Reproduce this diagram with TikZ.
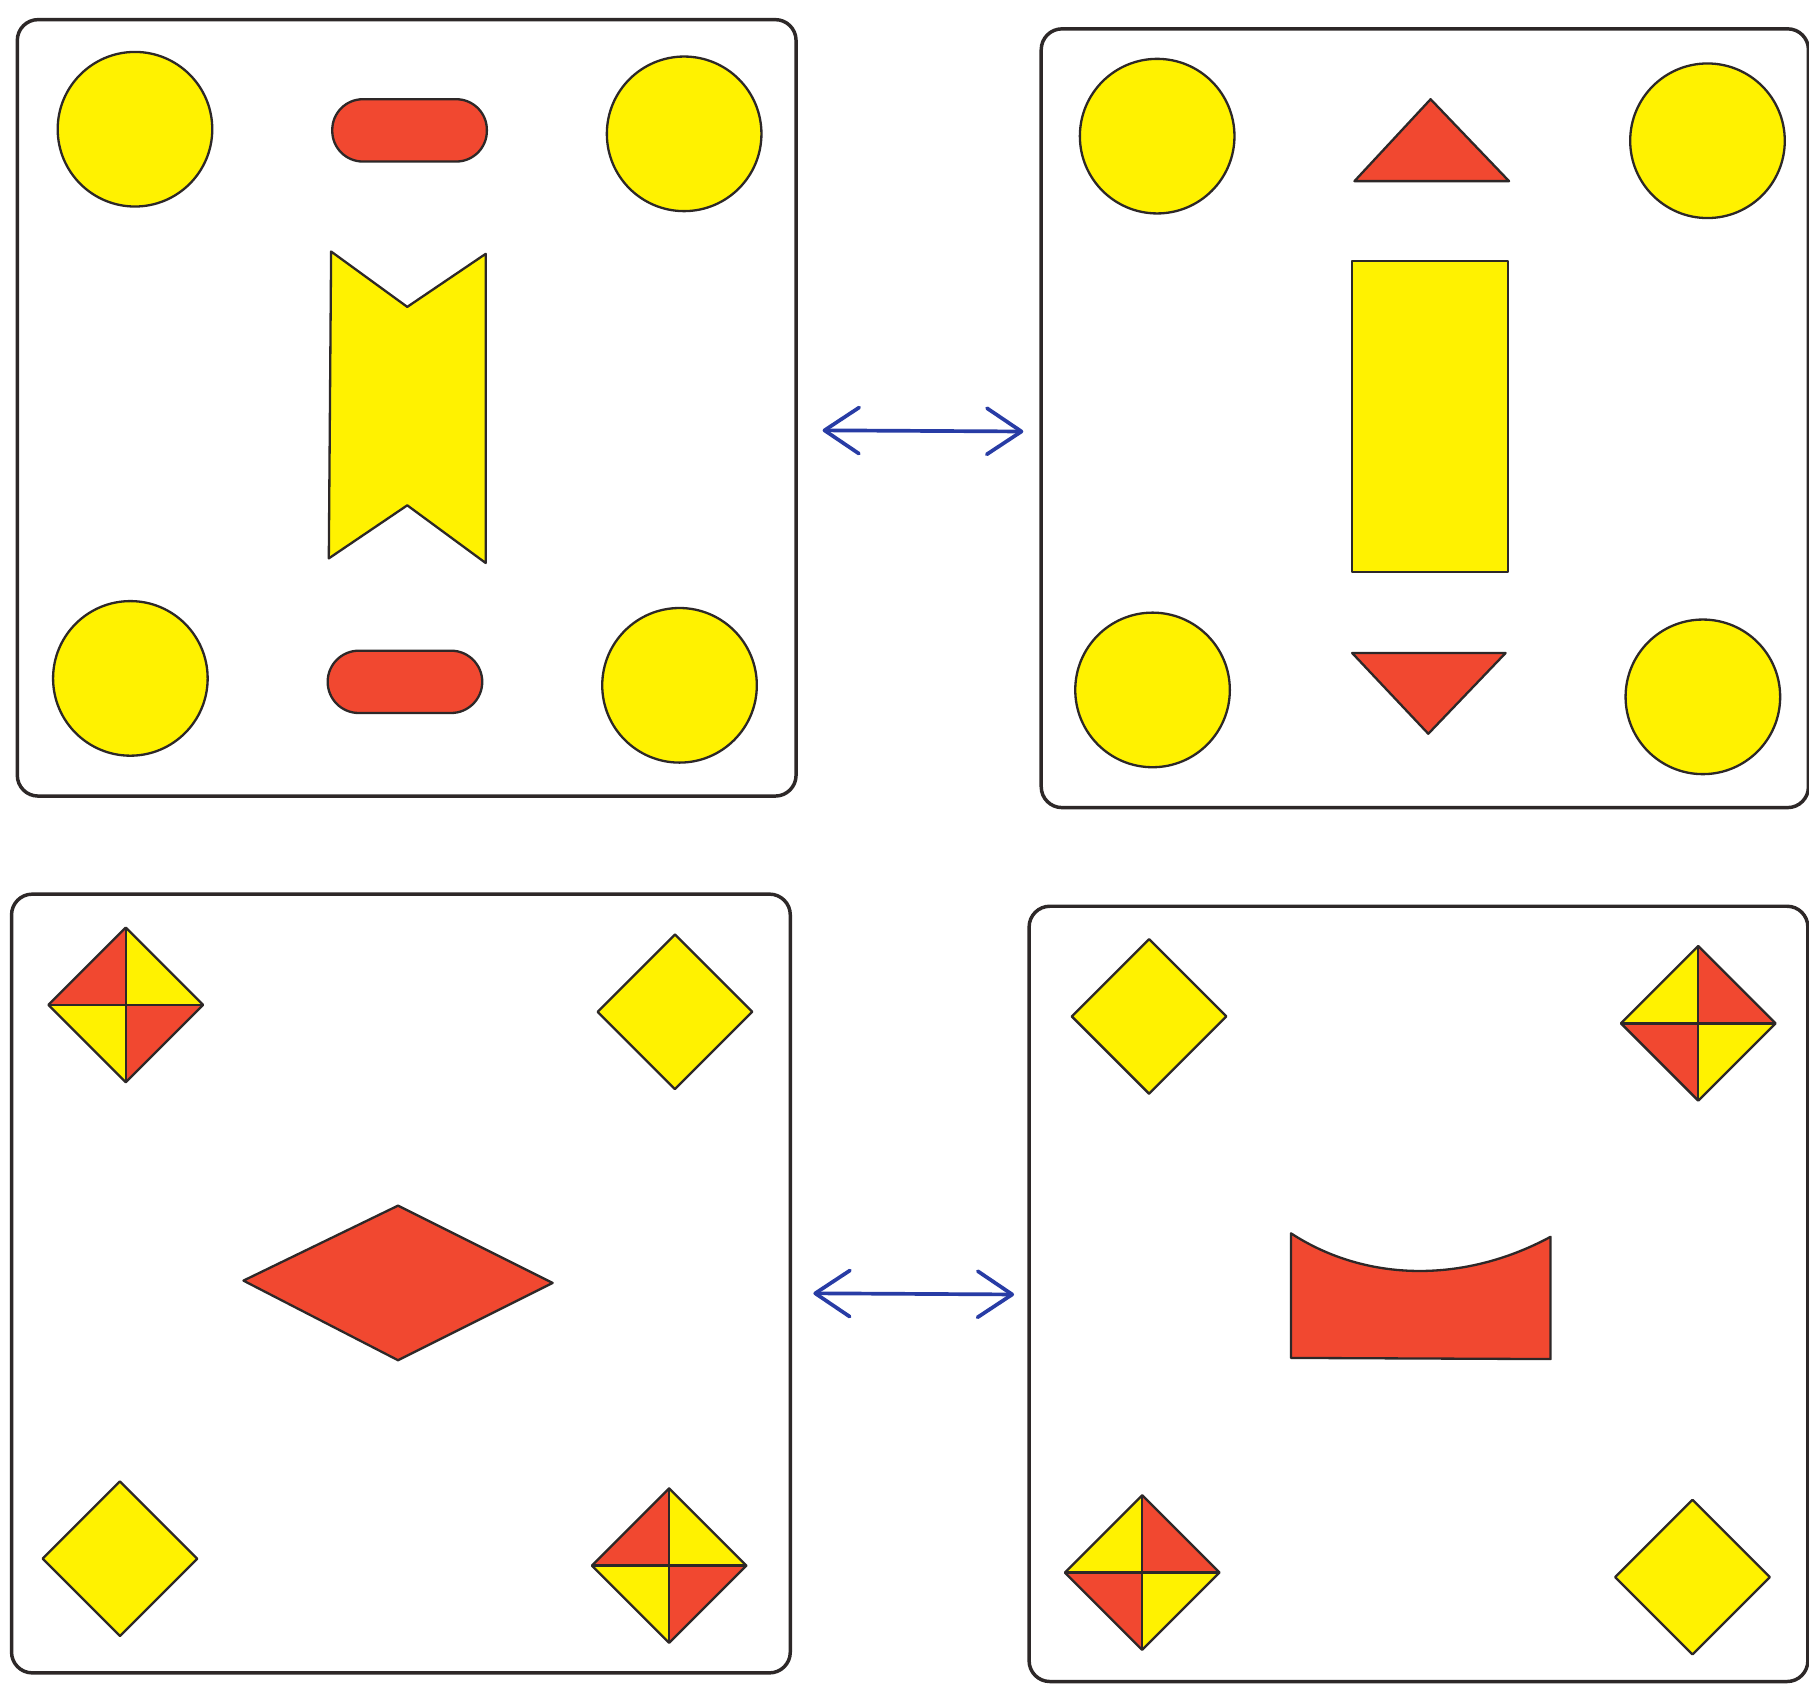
\documentclass[tikz,border=0pt]{standalone}
\usetikzlibrary{arrows.meta}
\definecolor{fy}{RGB}{255,242,0}
\definecolor{fr}{RGB}{241,72,48}
\definecolor{edge}{RGB}{45,40,40}
\definecolor{arr}{RGB}{40,60,165}
\tikzset{
  panel/.style={draw=edge, line width=3pt, rounded corners=18pt, fill=white},
  shp/.style={draw=edge, line width=2pt, line join=round},
  ycirc/.style={shp, fill=fy},
  yel/.style={shp, fill=fy},
  red/.style={shp, fill=fr},
  link/.style={draw=arr, line width=3.2pt, line cap=round, {Straight Barb[length=30pt,width=40pt,line width=3.2pt,round]}-{Straight Barb[length=30pt,width=40pt,line width=3.2pt,round]}},
  splitA/.pic={
    \fill[fr] (-67,0) -- (0,-67) -- (0,0) -- cycle;
    \fill[fy] (0,-67) -- (67,0) -- (0,0) -- cycle;
    \fill[fy] (-67,0) -- (0,67) -- (0,0) -- cycle;
    \fill[fr] (0,67) -- (67,0) -- (0,0) -- cycle;
    \draw[shp] (-67,0) -- (0,-67) -- (67,0) -- (0,67) -- cycle;
    \draw[shp] (-67,0) -- (67,0) (0,-67) -- (0,67);
  },
  splitB/.pic={
    \fill[fy] (-67,0) -- (0,-67) -- (0,0) -- cycle;
    \fill[fr] (0,-67) -- (67,0) -- (0,0) -- cycle;
    \fill[fr] (-67,0) -- (0,67) -- (0,0) -- cycle;
    \fill[fy] (0,67) -- (67,0) -- (0,0) -- cycle;
    \draw[shp] (-67,0) -- (0,-67) -- (67,0) -- (0,67) -- cycle;
    \draw[shp] (-67,0) -- (67,0) (0,-67) -- (0,67);
  },
  ydia/.pic={
    \draw[yel] (-67,0) -- (0,-67) -- (67,0) -- (0,67) -- cycle;
  }
}
\begin{document}
\begin{tikzpicture}[x=1pt,y=-1pt]
\useasboundingbox (0,0) rectangle (1568,1460);
\fill[white] (0,0) rectangle (1568,1460);

% panels
\node[panel, minimum width=675pt, minimum height=673pt, inner sep=0pt] (p1) at (352.5,353.5) {};
\node[panel, minimum width=665pt, minimum height=675pt, inner sep=0pt] (p2) at (1235,362.5) {};
\node[panel, minimum width=675pt, minimum height=675pt, inner sep=0pt] (p3) at (347.5,1112.5) {};
\node[panel, minimum width=675pt, minimum height=672pt, inner sep=0pt] (p4) at (1229.5,1121.5) {};

% panel 1
\draw[ycirc] (117,112) circle (67);
\draw[ycirc] (593,116) circle (67);
\draw[ycirc] (113,588) circle (67);
\draw[ycirc] (589,594) circle (67);
\draw[red, rounded corners=26.5pt] (288,86) rectangle (422,140);
\draw[red, rounded corners=27pt] (284,564) rectangle (418,618);
\draw[yel] (287,218) -- (353,266) -- (421,220) -- (421,488) -- (353,438) -- (285,484) -- cycle;

% panel 2
\draw[ycirc] (1003,118) circle (67);
\draw[ycirc] (1480,122) circle (67);
\draw[ycirc] (999,598) circle (67);
\draw[ycirc] (1476,604) circle (67);
\draw[red] (1240,86) -- (1308,157) -- (1174,157) -- cycle;
\draw[yel] (1172,226) rectangle (1307,496);
\draw[red] (1172,566) -- (1305,566) -- (1238,636) -- cycle;

% panel 3
\pic at (109,871) {splitA};
\pic at (585,877) {ydia};
\draw[red] (211,1110) -- (345,1045) -- (479,1112) -- (345,1179) -- cycle;
\pic at (104,1351) {ydia};
\pic at (580,1357) {splitA};

% panel 4
\pic at (996,881) {ydia};
\pic at (1472,887) {splitB};
\draw[red] (1119,1069) .. controls (1185,1112) and (1270,1112) .. (1344,1072) -- (1344,1178) -- (1119,1177) -- cycle;
\pic at (990,1363) {splitB};
\pic at (1467,1367) {ydia};

% connectors
\coordinate (a1l) at (713,373);
\coordinate (a1r) at (887,374);
\coordinate (a2l) at (705,1121);
\coordinate (a2r) at (879,1122);
\draw[link] (a1l) -- (a1r);
\draw[link] (a2l) -- (a2r);
\end{tikzpicture}
\end{document}
